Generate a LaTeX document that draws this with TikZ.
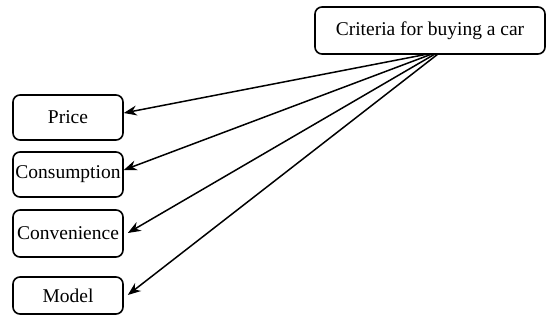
\documentclass[tikz,border=0pt]{standalone}
\usepackage{fontspec}
\setmainfont{Liberation Serif}
\usetikzlibrary{arrows.meta}
\begin{document}
\begin{tikzpicture}[x=1pt,y=-1pt,
  box/.style={draw,line width=1.6pt,rounded corners=7pt,inner sep=0pt,font=\fontsize{19.5}{23}\selectfont},
  arr/.style={line width=1.5pt,-{Stealth[length=13pt,width=10pt]}}]
\useasboundingbox (0,0) rectangle (547,324);
\node[box,minimum width=230pt,minimum height=47pt] (top) at (430,30.5) {Criteria for buying a car};
\node[box,minimum width=110pt,minimum height=45pt] (price) at (68,117.5) {Price};
\node[box,minimum width=110pt,minimum height=45pt] (cons) at (68,174.5) {Consumption};
\node[box,minimum width=110pt,minimum height=47pt] (conv) at (68,233.5) {Convenience};
\node[box,minimum width=110pt,minimum height=37pt] (model) at (68,295.5) {Model};
\coordinate (s1) at (428,54);
\coordinate (s2) at (432,54);
\coordinate (s3) at (435,54);
\coordinate (s4) at (438,54);
\draw[arr] (s1) -- (price.east |- 0,113);
\draw[arr] (s2) -- (cons.east |- 0,170);
\draw[arr] (s3) -- ([xshift=4pt]conv.east |- 0,233);
\draw[arr] (s4) -- ([xshift=4pt]model.east |- 0,295);
\end{tikzpicture}
\end{document}
